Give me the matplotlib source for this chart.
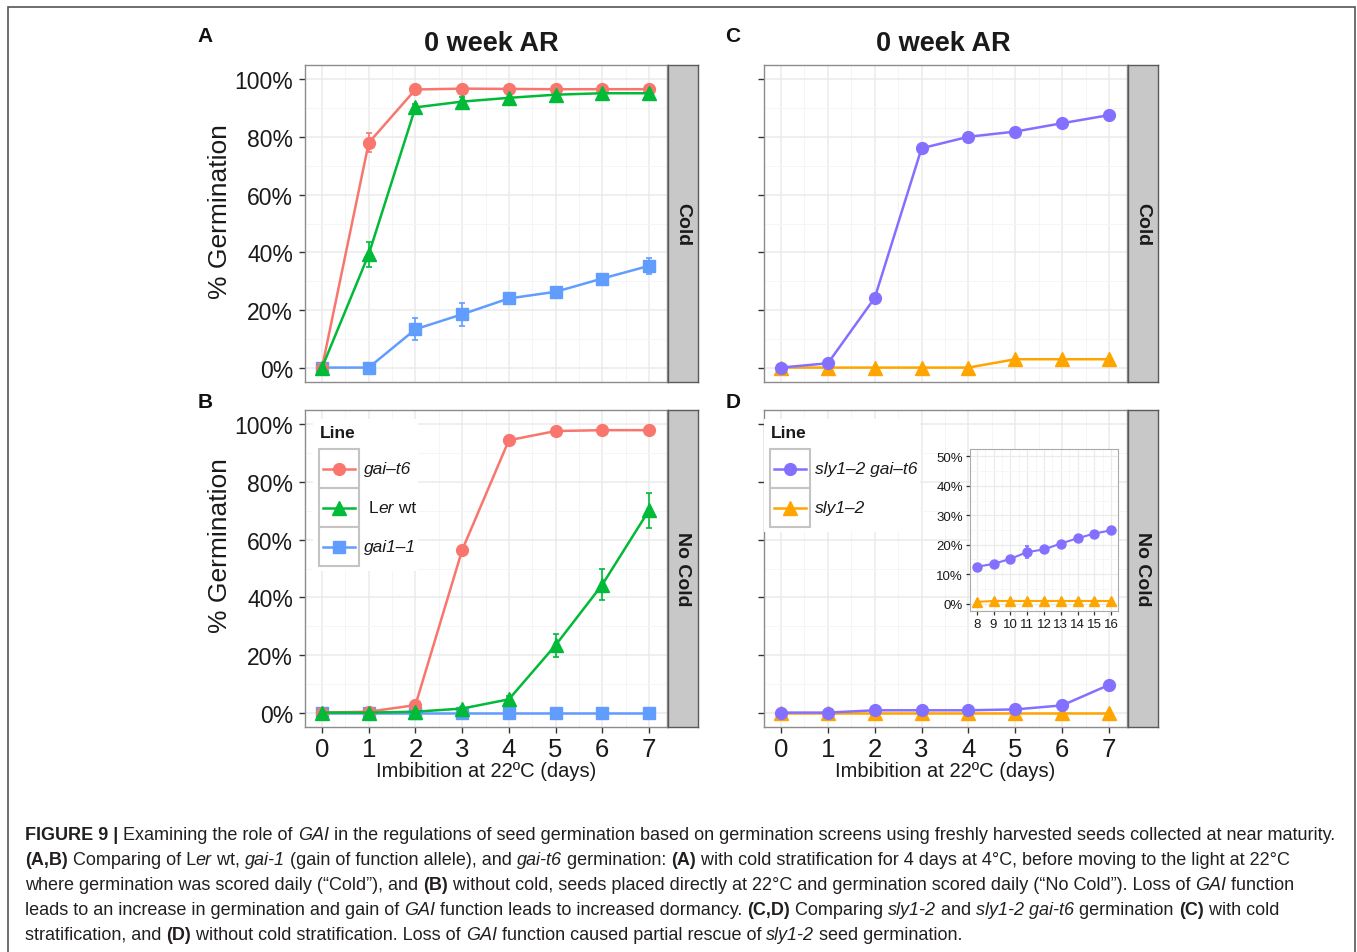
import matplotlib
matplotlib.use("Agg")
import matplotlib.pyplot as plt
from matplotlib import font_manager
from matplotlib.patches import Rectangle
from matplotlib.lines import Line2D
import matplotlib.ticker as mticker
import numpy as np

plt.rcParams['font.family'] = ['Liberation Sans', 'DejaVu Sans']

# ---- data ----
days = [0, 1, 2, 3, 4, 5, 6, 7]
inset_days = [8, 9, 10, 11, 12, 13, 14, 15, 16]

# A: Cold
a_gait6 = [0, 78.0, 96.5, 96.8, 96.7, 96.6, 96.6, 96.6]
a_gait6_err = [0, 3.3, 0.5, 0.5, 0.5, 0.5, 0.5, 0.5]
a_ler = [0, 39.3, 90.3, 92.3, 93.6, 94.7, 95.2, 95.2]
a_ler_err = [0, 4.3, 1.2, 1.5, 1.5, 1.2, 1.2, 1.2]
a_gai1 = [0, 0, 13.3, 18.5, 24.0, 26.3, 30.9, 35.3]
a_gai1_err = [0, 0, 3.8, 4.0, 0.8, 0.5, 0.8, 2.8]

# B: No Cold
b_gait6 = [0, 0.3, 2.6, 56.4, 94.5, 97.7, 98.0, 98.0]
b_gait6_err = [0, 0.3, 0.5, 0.5, 0.5, 0.3, 0.3, 0.3]
b_ler = [0, 0, 0.3, 1.4, 4.6, 23.4, 44.4, 70.2]
b_ler_err = [0, 0, 0.3, 0.5, 1.0, 4.0, 5.4, 6.0]
b_gai1 = [0, 0, 0, 0, 0, 0, 0, 0]
b_gai1_err = [0, 0, 0, 0, 0, 0, 0, 0]

# C: Cold
c_slygai = [0, 1.5, 24.2, 76.1, 80.1, 81.9, 84.8, 87.6]
c_slygai_err = [0, 0.3, 0.5, 1.5, 1.3, 0.8, 0.8, 0.5]
c_sly = [0, 0, 0, 0, 0, 2.9, 2.9, 2.9]
c_sly_err = [0, 0, 0, 0, 0, 0, 0, 0]

# D: No Cold
d_slygai = [0, 0, 0.8, 0.8, 0.8, 1.1, 2.5, 9.6]
d_slygai_err = [0, 0, 0.2, 0.2, 0.2, 0.3, 0.4, 0.5]
d_sly = [0, 0, 0, 0, 0, 0, 0, 0]
d_sly_err = [0, 0, 0, 0, 0, 0, 0, 0]

# D inset: days 8-16
i_slygai = [12.5, 13.5, 15.2, 17.5, 18.4, 20.4, 22.2, 23.8, 24.9]
i_slygai_err = [0.5, 0.8, 1.0, 2.0, 1.3, 0.8, 0.8, 0.8, 0.5]
i_sly = [0.6, 0.9, 0.9, 0.9, 0.9, 0.9, 0.9, 0.9, 0.9]
i_sly_err = [0, 0, 0, 0, 0, 0, 0, 0, 0]

RED, GREEN, BLUE = '#F8766D', '#00BA38', '#619CFF'
PURPLE, ORANGE = '#8470FF', '#FFA500'

W, H = 1357, 953
fig = plt.figure(figsize=(W / 100, H / 100), dpi=100)
renderer = fig.canvas.get_renderer()


def box(x0, y0, x1, y1):
    return [x0 / W, 1 - y1 / H, (x1 - x0) / W, (y1 - y0) / H]


def fx(x):
    return x / W


def fy(y):
    return 1 - y / H


def seg_width(s, **kw):
    t1 = fig.text(0, 0, '|' + s + '|', **kw)
    t2 = fig.text(0, 0, '||', **kw)
    w = t1.get_window_extent(renderer).width - t2.get_window_extent(renderer).width
    t1.remove()
    t2.remove()
    return w


def rich(x, y, segs, size, family):
    for s, st in segs:
        kw = dict(size=size, family=family)
        if st == 'b':
            kw['weight'] = 'bold'
        if st == 'i':
            kw['style'] = 'italic'
        fig.text(fx(x), fy(y), s, va='baseline', ha='left', color='#231F20', **kw)
        x += seg_width(s, **kw)
    return x


def style_panel(ax, xlabels):
    ax.set_xlim(-0.364, 7.385)
    ax.set_ylim(-5, 105)
    ax.set_xticks(days)
    ax.set_xticks(np.arange(0.5, 7, 1), minor=True)
    ax.set_yticks([0, 20, 40, 60, 80, 100])
    ax.set_yticks([10, 30, 50, 70, 90], minor=True)
    ax.yaxis.set_major_formatter(mticker.FuncFormatter(lambda v, p: '%d%%' % v))
    ax.grid(True, which='major', color='#EBEBEB', lw=1.1)
    ax.grid(True, which='minor', color='#F5F5F5', lw=0.7)
    ax.set_axisbelow(True)
    ax.tick_params(which='minor', length=0)
    ax.tick_params(axis='y', which='major', direction='out', length=4.5, width=1,
                   color='#333333', labelsize=16.5, labelcolor='#1A1A1A', pad=4)
    if xlabels:
        ax.tick_params(axis='x', which='major', direction='out', length=4.5, width=1,
                       color='#333333', labelsize=18.5, labelcolor='#1A1A1A', pad=3)
    else:
        ax.tick_params(axis='x', which='major', bottom=False, labelbottom=False)
    for sp in ax.spines.values():
        sp.set_color('#8C8C8C')
        sp.set_linewidth(1.0)


def series(ax, x, y, e, color, marker, ms, lw=1.8, cap=2.5):
    ax.errorbar(x, y, yerr=e, color=color, marker=marker, ms=ms, lw=lw,
                elinewidth=1.2, capsize=cap, capthick=1.2, mec=color, clip_on=False,
                zorder=3)


def strip(x0, y0, x1, y1, label):
    s = fig.add_axes(box(x0, y0, x1, y1))
    s.set_facecolor('#C8C8C8')
    s.set_xticks([])
    s.set_yticks([])
    for sp in s.spines.values():
        sp.set_color('#5A5A5A')
        sp.set_linewidth(1.0)
    s.text(0.5, 0.5, label, rotation=-90, ha='center', va='center', weight='bold',
           size=14, color='#1A1A1A', transform=s.transAxes)


axA = fig.add_axes(box(305, 66, 667, 383))
axB = fig.add_axes(box(305, 411, 667, 728))
axC = fig.add_axes(box(764, 66, 1127, 383))
axD = fig.add_axes(box(764, 411, 1127, 728))
for ax, xl in [(axA, False), (axB, True), (axC, False), (axD, True)]:
    style_panel(ax, xl)
axC.tick_params(axis='y', labelleft=False)
axD.tick_params(axis='y', labelleft=False)

series(axA, days, a_gai1, a_gai1_err, BLUE, 's', 8)
series(axA, days, a_gait6, a_gait6_err, RED, 'o', 8.5)
series(axA, days, a_ler, a_ler_err, GREEN, '^', 10)
series(axB, days, b_gai1, b_gai1_err, BLUE, 's', 8)
series(axB, days, b_gait6, b_gait6_err, RED, 'o', 8.5)
series(axB, days, b_ler, b_ler_err, GREEN, '^', 10)
series(axC, days, c_sly, c_sly_err, ORANGE, '^', 10)
series(axC, days, c_slygai, c_slygai_err, PURPLE, 'o', 8.5)
series(axD, days, d_sly, d_sly_err, ORANGE, '^', 10)
series(axD, days, d_slygai, d_slygai_err, PURPLE, 'o', 8.5)

strip(668, 66, 698, 383, 'Cold')
strip(668, 411, 698, 728, 'No Cold')
strip(1128, 66, 1158, 383, 'Cold')
strip(1128, 411, 1158, 728, 'No Cold')


def legend(x0, y0, x1, y1, entries, label_x):
    fig.add_artist(Rectangle((fx(x0), fy(y1)), (x1 - x0) / W, (y1 - y0) / H,
                             transform=fig.transFigure, fc='white', ec='none', zorder=5))
    fig.text(fx(x0 + 7), fy(y0 + 14), 'Line', weight='bold', size=12.5, va='center',
             ha='left', zorder=6, color='#1A1A1A')
    top = y0 + 30
    for i, (color, marker, ms, segs, dx) in enumerate(entries):
        ky0 = top + i * 39
        fig.add_artist(Rectangle((fx(x0 + 6), fy(ky0 + 39)), 40 / W, 39 / H,
                                 transform=fig.transFigure, fc='white', ec='#C4C4C4',
                                 lw=1.5, zorder=6))
        cy = fy(ky0 + 19.5)
        fig.add_artist(Line2D([fx(x0 + 10), fx(x0 + 42)], [cy, cy], color=color, lw=1.8,
                              transform=fig.transFigure, zorder=7))
        fig.add_artist(Line2D([fx(x0 + 26)], [cy], color=color, marker=marker, ms=ms,
                              transform=fig.transFigure, zorder=7, lw=0))
        xx = label_x + dx
        for s, st in segs:
            kw = dict(size=12.5)
            if st == 'i':
                kw['style'] = 'italic'
            fig.text(fx(xx), cy, s, va='center', ha='left', color='#1A1A1A',
                     zorder=7, **kw)
            xx += seg_width(s, **kw)


legend(313, 420, 418, 572, [
    (RED, 'o', 8.5, [('gai\u2013t6', 'i')], 0),
    (GREEN, '^', 10, [('L', 'n'), ('er', 'i'), (' wt', 'n')], 5),
    (BLUE, 's', 8, [('gai1\u20131', 'i')], 0),
], 364)
legend(764, 420, 920, 533, [
    (PURPLE, 'o', 8.5, [('sly1\u20132 gai\u2013t6', 'i')], 0),
    (ORANGE, '^', 10, [('sly1\u20132', 'i')], 0),
], 815)

# inset
axI = fig.add_axes(box(970, 450, 1118, 612))
axI.set_xlim(7.6, 16.4)
axI.set_ylim(-2.5, 52.5)
axI.set_xticks(inset_days)
axI.set_xticks(np.arange(8.5, 16, 1), minor=True)
axI.set_yticks([0, 10, 20, 30, 40, 50])
axI.set_yticks([5, 15, 25, 35, 45], minor=True)
axI.yaxis.set_major_formatter(mticker.FuncFormatter(lambda v, p: '%d%%' % v))
axI.grid(True, which='major', color='#EBEBEB', lw=0.9)
axI.grid(True, which='minor', color='#F5F5F5', lw=0.6)
axI.set_axisbelow(True)
axI.tick_params(which='minor', length=0)
axI.tick_params(which='major', direction='out', length=3, width=0.9, color='#333333',
                labelsize=9.5, labelcolor='#1A1A1A', pad=2)
for sp in axI.spines.values():
    sp.set_color('#AAAAAA')
series(axI, inset_days, i_sly, i_sly_err, ORANGE, '^', 7, lw=1.5, cap=1.5)
series(axI, inset_days, i_slygai, i_slygai_err, PURPLE, 'o', 6.5, lw=1.5, cap=1.5)

# titles and labels
for x in (491, 943):
    fig.text(fx(x), fy(44), '0 week AR', weight='bold', size=19.5, ha='center',
             va='center', color='#1A1A1A')
for y in (212, 546):
    fig.text(fx(220), fy(y), '% Germination', rotation=90, size=19, ha='center',
             va='center', color='#1A1A1A')
for x in (486, 945):
    fig.text(fx(x), fy(772), 'Imbibition at 22\u00baC (days)', size=14.5, ha='center',
             va='center', color='#1A1A1A')
for lab, x, y in [('A', 205, 36), ('B', 205, 403), ('C', 733, 36), ('D', 733, 403)]:
    fig.text(fx(x), fy(y), lab, weight='bold', size=15, ha='center', va='center',
             color='#111111')

# outer frame
fig.add_artist(Rectangle((fx(8), fy(965)), (1355 - 8) / W, (965 - 8) / H,
                         transform=fig.transFigure, fc='none', ec='#555555', lw=1.2))

# caption
names = {f.name for f in font_manager.fontManager.ttflist}
cap_font = 'Liberation Sans Narrow' if 'Liberation Sans Narrow' in names else 'Liberation Sans'

caption = [
    [('FIGURE 9 |', 'b'), (' Examining the role of ', 'n'), ('GAI', 'i'),
     (' in the regulations of seed germination based on germination screens using freshly harvested seeds collected at near maturity.', 'n')],
    [('(A,B)', 'b'), (' Comparing of L', 'n'), ('er', 'i'), (' wt, ', 'n'), ('gai-1', 'i'),
     (' (gain of function allele), and ', 'n'), ('gai-t6', 'i'), (' germination: ', 'n'),
     ('(A)', 'b'), (' with cold stratification for 4 days at 4\u00b0C, before moving to the light at 22\u00b0C', 'n')],
    [('where germination was scored daily (\u201cCold\u201d), and ', 'n'), ('(B)', 'b'),
     (' without cold, seeds placed directly at 22\u00b0C and germination scored daily (\u201cNo Cold\u201d). Loss of ', 'n'),
     ('GAI', 'i'), (' function', 'n')],
    [('leads to an increase in germination and gain of ', 'n'), ('GAI', 'i'),
     (' function leads to increased dormancy. ', 'n'), ('(C,D)', 'b'), (' Comparing ', 'n'),
     ('sly1-2', 'i'), (' and ', 'n'), ('sly1-2 gai-t6', 'i'), (' germination ', 'n'),
     ('(C)', 'b'), (' with cold', 'n')],
    [('stratification, and ', 'n'), ('(D)', 'b'),
     (' without cold stratification. Loss of ', 'n'), ('GAI', 'i'),
     (' function caused partial rescue of ', 'n'), ('sly1-2', 'i'), (' seed germination.', 'n')],
]

# fit the first line's width to the reference
w0 = 0
for s, st in caption[0]:
    kw = dict(size=12, family=cap_font)
    if st == 'b':
        kw['weight'] = 'bold'
    if st == 'i':
        kw['style'] = 'italic'
    w0 += seg_width(s, **kw)
cap_size = 12 * (1333 - 25) / w0

for i, line in enumerate(caption):
    rich(25, 840 + i * 25, line, cap_size, cap_font)

fig.savefig('out.png', dpi=100)
